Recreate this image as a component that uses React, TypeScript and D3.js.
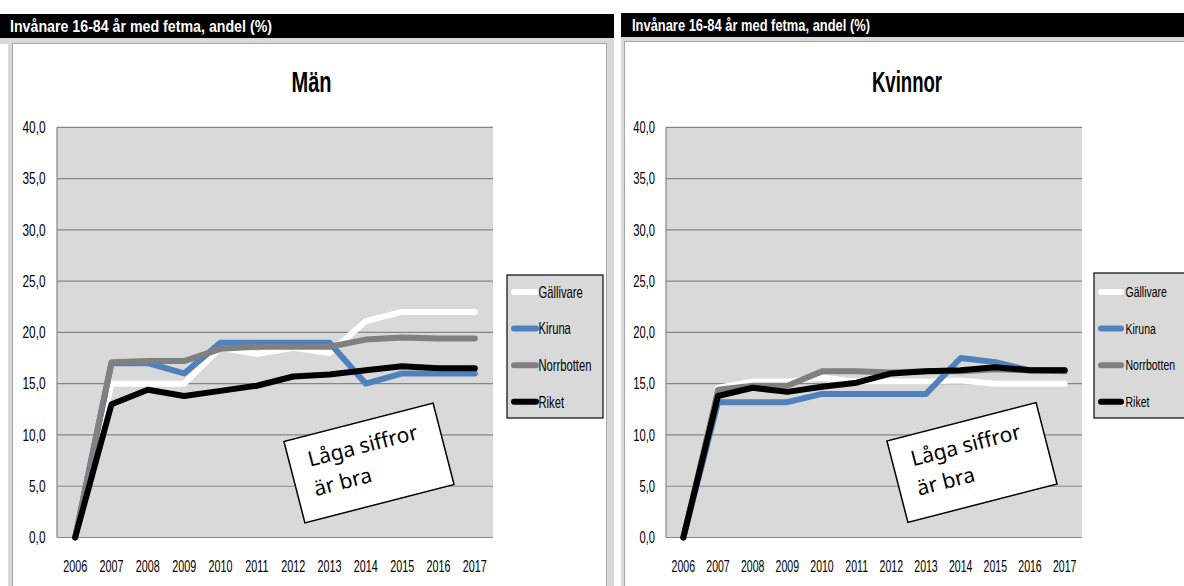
import React from "react";
import * as d3 from "d3";

// ---------- data ----------
const years = ["2006", "2007", "2008", "2009", "2010", "2011", "2012", "2013", "2014", "2015", "2016", "2017"];
const yTicks = [0, 5, 10, 15, 20, 25, 30, 35, 40];
const seriesNames = ["Gällivare", "Kiruna", "Norrbotten", "Riket"];

const manGallivare = [0, 15.0, 15.0, 15.0, 18.5, 17.9, 18.5, 18.0, 21.1, 22.0, 22.0, 22.0];
const manKiruna = [0, 17.0, 17.0, 16.0, 19.0, 19.0, 19.0, 19.0, 15.0, 16.0, 16.0, 16.0];
const manNorrbotten = [0, 17.1, 17.2, 17.2, 18.4, 18.6, 18.6, 18.6, 19.3, 19.5, 19.4, 19.4];
const manRiket = [0, 13.0, 14.4, 13.8, 14.3, 14.8, 15.7, 15.9, 16.3, 16.7, 16.5, 16.5];

const womGallivare = [0, 14.6, 15.2, 15.2, 15.6, 15.2, 15.2, 15.2, 15.3, 15.0, 15.0, 15.0];
const womKiruna = [0, 13.2, 13.2, 13.2, 14.0, 14.0, 14.0, 14.0, 17.5, 17.1, 16.3, 16.3];
const womNorrbotten = [0, 14.4, 14.8, 14.8, 16.2, 16.2, 16.1, 16.2, 16.2, 16.4, 16.3, 16.2];
const womRiket = [0, 13.8, 14.6, 14.2, 14.7, 15.1, 16.0, 16.2, 16.3, 16.6, 16.3, 16.3];

const headerText = "Invånare 16-84 år med fetma, andel (%)";
const titles = ["Män", "Kvinnor"];
const noteLines = ["Låga siffror", "är bra"];

// ---------- styles ----------
const COLORS = ["#ffffff", "#4f81bd", "#808080", "#000000"];
const FONT = "'Liberation Sans', Arial, sans-serif";
const NOTE_FONT = "'Noto Sans', 'Open Sans', sans-serif";

const fmt = (v: number) => v.toFixed(1).replace(".", ",");

type Cfg = {
  x0: number; x1: number; y0: number; y1: number;
  yLabelX: number; yLabelSize: number; yLabelSx: number;
  xLabelY: number; xLabelSize: number; xLabelSx: number;
  titleX: number; titleY: number; titleSize: number; titleSx: number;
  legX: number; legY: number; legW: number; legH: number;
  legS0: number; legS1: number; legTextX: number; legRow0: number; legRowStep: number;
  legSize: number; legSx: number;
  noteCx: number; noteCy: number;
};

const leftCfg: Cfg = {
  x0: 57, x1: 493, y0: 127.3, y1: 537.5,
  yLabelX: 45.5, yLabelSize: 16, yLabelSx: 0.74,
  xLabelY: 571.5, xLabelSize: 17, xLabelSx: 0.635,
  titleX: 311.5, titleY: 92, titleSize: 30, titleSx: 0.667,
  legX: 507, legY: 275, legW: 96, legH: 143,
  legS0: 514, legS1: 536, legTextX: 538.5, legRow0: 292, legRowStep: 36.6,
  legSize: 16, legSx: 0.7,
  noteCx: 369, noteCy: 463,
};

const rightCfg: Cfg = {
  x0: 666, x1: 1082, y0: 127.3, y1: 537.5,
  yLabelX: 655, yLabelSize: 16, yLabelSx: 0.7,
  xLabelY: 571.5, xLabelSize: 17, xLabelSx: 0.62,
  titleX: 907, titleY: 92, titleSize: 29, titleSx: 0.64,
  legX: 1094, legY: 273, legW: 100, legH: 145,
  legS0: 1101, legS1: 1121, legTextX: 1125.5, legRow0: 292, legRowStep: 36.6,
  legSize: 15, legSx: 0.7,
  noteCx: 972, noteCy: 462.5,
};

function SText(props: {
  x: number; y: number; sx: number; size: number; anchor?: string; weight?: string | number;
  fill?: string; baseline?: string; children: React.ReactNode;
}) {
  const { x, y, sx, size, anchor = "start", weight = "normal", fill = "#000", baseline } = props;
  return (
    <text
      transform={`translate(${x},${y}) scale(${sx},1)`}
      fontFamily={FONT}
      fontSize={size}
      fontWeight={weight as any}
      textAnchor={anchor}
      dominantBaseline={baseline as any}
      fill={fill}
    >
      {props.children}
    </text>
  );
}

function Chart({ cfg, series, title }: { cfg: Cfg; series: number[][]; title: string }) {
  const x = d3.scaleBand<string>().domain(years).range([cfg.x0, cfg.x1]).padding(0);
  const y = d3.scaleLinear().domain([0, 40]).range([cfg.y1, cfg.y0]);
  const cx = (i: number) => (x(years[i]) as number) + x.bandwidth() / 2;
  const line = d3
    .line<number>()
    .x((_d, i) => cx(i))
    .y((d) => y(d));
  const legY = d3
    .scaleLinear()
    .domain([0, 1])
    .range([cfg.legRow0, cfg.legRow0 + cfg.legRowStep]);

  return (
    <g>
      <SText x={cfg.titleX} y={cfg.titleY} sx={cfg.titleSx} size={cfg.titleSize} anchor="middle" weight="bold">
        {title}
      </SText>
      <rect x={cfg.x0} y={cfg.y0} width={cfg.x1 - cfg.x0} height={cfg.y1 - cfg.y0} fill="#d9d9d9" />
      {yTicks.map((t) => (
        <g key={t}>
          {t > 0 && (
            <line x1={cfg.x0} x2={cfg.x1} y1={y(t)} y2={y(t)} stroke="#868686" strokeWidth={1.2} />
          )}
          <SText
            x={cfg.yLabelX}
            y={y(t)}
            sx={cfg.yLabelSx}
            size={cfg.yLabelSize}
            anchor="end"
            baseline="central"
          >
            {fmt(t)}
          </SText>
        </g>
      ))}
      <line x1={cfg.x0} x2={cfg.x0} y1={cfg.y0} y2={cfg.y1} stroke="#868686" strokeWidth={1.2} />
      <line x1={cfg.x0} x2={cfg.x1} y1={cfg.y1} y2={cfg.y1} stroke="#868686" strokeWidth={1.2} />
      {years.map((yr, i) => (
        <SText key={yr} x={cx(i)} y={cfg.xLabelY} sx={cfg.xLabelSx} size={cfg.xLabelSize} anchor="middle">
          {yr}
        </SText>
      ))}
      {series.map((s, k) => (
        <path
          key={seriesNames[k]}
          d={line(s) || ""}
          fill="none"
          stroke={COLORS[k]}
          strokeWidth={6}
          strokeLinejoin="round"
          strokeLinecap="round"
        />
      ))}
      {/* legend */}
      <rect x={cfg.legX} y={cfg.legY} width={cfg.legW} height={cfg.legH} fill="#d9d9d9" stroke="#1a1a1a" strokeWidth={1.3} />
      {seriesNames.map((n, k) => (
        <g key={n}>
          <line
            x1={cfg.legS0}
            x2={cfg.legS1}
            y1={legY(k)}
            y2={legY(k)}
            stroke={COLORS[k]}
            strokeWidth={6}
            strokeLinecap="round"
          />
          <SText x={cfg.legTextX} y={legY(k)} sx={cfg.legSx} size={cfg.legSize} baseline="central">
            {n}
          </SText>
        </g>
      ))}
      {/* note */}
      <g transform={`translate(${cfg.noteCx},${cfg.noteCy}) rotate(-14.45)`}>
        <rect x={-77} y={-42} width={154} height={84} fill="#ffffff" stroke="#000" strokeWidth={1.5} />
        <text x={-58} y={-11} fontFamily={NOTE_FONT} fontSize={21} fill="#000">
          {noteLines[0]}
        </text>
        <text x={-59.5} y={19} fontFamily={NOTE_FONT} fontSize={21} fill="#000">
          {noteLines[1]}
        </text>
      </g>
    </g>
  );
}

export default function App() {
  return (
    <div style={{ position: "absolute", left: 0, top: 0, width: 1184, height: 586, overflow: "hidden" }}>
      <svg width={1184} height={586} style={{ display: "block" }}>
        <rect x={0} y={0} width={1184} height={586} fill="#ffffff" />
        {/* left panel frame */}
        <rect x={0} y={38} width={614} height={6} fill="#d9d9d9" />
        <rect x={8} y={38} width={5} height={548} fill="#d9d9d9" />
        <rect x={607} y={38} width={7} height={548} fill="#d9d9d9" />
        <rect x={12.5} y={43.5} width={594} height={560} fill="#ffffff" stroke="#a6a6a6" />
        {/* right panel frame */}
        <rect x={621} y={37} width={563} height={5} fill="#d9d9d9" />
        <rect x={621} y={37} width={4} height={549} fill="#d9d9d9" />
        <rect x={624.5} y={41.5} width={580} height={560} fill="#ffffff" stroke="#a6a6a6" />
        {/* headers */}
        <rect x={0} y={14} width={614} height={24} fill="#000" />
        <text x={10} y={32} fontFamily={FONT} fontSize={17} fontWeight="bold" fill="#fff" textLength={262} lengthAdjust="spacingAndGlyphs">
          {headerText}
        </text>
        <rect x={621} y={13} width={563} height={24} fill="#000" />
        <text x={632} y={31} fontFamily={FONT} fontSize={16} fontWeight="bold" fill="#fff" textLength={238} lengthAdjust="spacingAndGlyphs">
          {headerText}
        </text>
        <Chart cfg={leftCfg} series={[manGallivare, manKiruna, manNorrbotten, manRiket]} title={titles[0]} />
        <Chart cfg={rightCfg} series={[womGallivare, womKiruna, womNorrbotten, womRiket]} title={titles[1]} />
      </svg>
    </div>
  );
}
